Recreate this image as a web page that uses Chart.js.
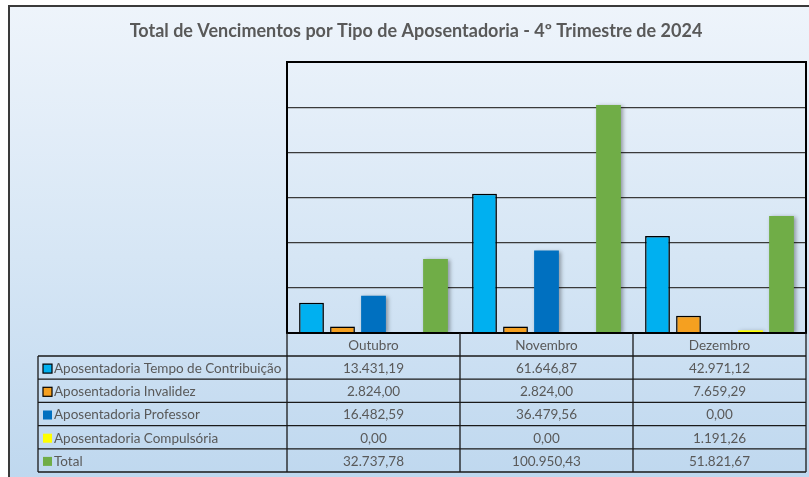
<!DOCTYPE html>
<html>
<head>
<meta charset="utf-8">
<script src="https://cdn.jsdelivr.net/npm/chart.js@4"></script>
<style>
  html, body { margin: 0; padding: 0; background: #fff; overflow: hidden; }
  #moldura {
    position: absolute; left: 8px; top: 5px; width: 840px; height: 500px;
    border: 2px solid #3a3a3a;
    background: linear-gradient(to bottom, #eef4fb 0%, #d6e6f5 50%, #bcd6ee 100%);
  }
  #grafico { position: absolute; left: 0; top: 0; }
</style>
</head>
<body>
<div id="moldura"></div>
<canvas id="grafico" width="809" height="477"></canvas>
<script>
const titulo = "Total de Vencimentos por Tipo de Aposentadoria - 4º Trimestre de 2024";
const meses = ["Outubro", "Novembro", "Dezembro"];
const tempoContribuicao = [13431.19, 61646.87, 42971.12];
const invalidez = [2824.00, 2824.00, 7659.29];
const professor = [16482.59, 36479.56, 0.00];
const compulsoria = [0.00, 0.00, 1191.26];
const total = [32737.78, 100950.43, 51821.67];

const cinza = "#595959";
const fonte = "Lato, 'Open Sans', sans-serif";

// formata no padrao brasileiro: 1.234,56
function formatar(v) {
  let partes = v.toFixed(2).split(".");
  partes[0] = partes[0].replace(/\B(?=(\d{3})+(?!\d))/g, ".");
  return partes[0] + "," + partes[1];
}

// sombra das barras
const sombra = {
  id: "sombra",
  beforeDatasetsDraw(chart) {
    const ctx = chart.ctx;
    ctx.save();
    ctx.shadowColor = "rgba(0,0,0,0.35)";
    ctx.shadowBlur = 4;
    ctx.shadowOffsetX = 2;
    ctx.shadowOffsetY = 1;
  },
  afterDatasetsDraw(chart) {
    chart.ctx.restore();
  }
};

// titulo, borda da area do grafico e tabela de dados
const tabela = {
  id: "tabela",
  afterDraw(chart) {
    const ctx = chart.ctx;
    const a = chart.chartArea;
    const x = chart.scales.x;
    const larg = (a.right - a.left) / meses.length;
    const esq = 38;
    const topoLinhas = 356;
    const altLinha = 23.2;
    const fundo = topoLinhas + altLinha * 5;

    ctx.save();
    // titulo centrado na moldura
    ctx.fillStyle = cinza;
    ctx.font = "bold 18px " + fonte;
    ctx.textAlign = "center";
    ctx.textBaseline = "middle";
    ctx.fillText(titulo, 416, 31);

    // moldura do grafico
    ctx.strokeStyle = "#000";
    ctx.lineWidth = 2;
    ctx.strokeRect(a.left, a.top, a.right - a.left, a.bottom - a.top);

    // linhas da tabela
    ctx.lineWidth = 1.3;
    ctx.strokeStyle = "#1a1a1a";
    ctx.beginPath();
    for (let i = 0; i <= meses.length; i++) {
      let px = a.left + larg * i;
      ctx.moveTo(px, a.bottom);
      ctx.lineTo(px, fundo);
    }
    ctx.moveTo(esq, topoLinhas);
    ctx.lineTo(esq, fundo);
    for (let r = 0; r <= 5; r++) {
      let py = topoLinhas + altLinha * r;
      ctx.moveTo(esq, py);
      ctx.lineTo(a.right, py);
    }
    ctx.stroke();

    // cabecalho dos meses
    ctx.fillStyle = cinza;
    ctx.font = "13.5px " + fonte;
    meses.forEach((m, i) => {
      ctx.fillText(m, x.getPixelForValue(i), (a.bottom + topoLinhas) / 2 + 1);
    });

    // linhas de series
    chart.data.datasets.forEach((ds, r) => {
      let cy = topoLinhas + altLinha * r + altLinha / 2 + 1;
      // chave da legenda
      ctx.fillStyle = ds.backgroundColor;
      ctx.fillRect(43, cy - 4.5, 9, 9);
      if (ds.borderWidth) {
        ctx.lineWidth = 1.2;
        ctx.strokeStyle = "#000";
        ctx.strokeRect(43, cy - 4.5, 9, 9);
      }
      ctx.fillStyle = cinza;
      ctx.textAlign = "left";
      ctx.fillText(ds.label, 54, cy);
      ctx.textAlign = "center";
      ds.data.forEach((v, i) => {
        ctx.fillText(formatar(v), x.getPixelForValue(i), cy);
      });
    });
    ctx.restore();
  }
};

let barras = new Chart(document.getElementById("grafico"), {
  type: "bar",
  data: {
    labels: meses,
    datasets: [
      {
        label: "Aposentadoria Tempo de Contribuição",
        data: tempoContribuicao,
        backgroundColor: "#00B0F0",
        borderColor: "#000",
        borderWidth: 1.5,
      },
      {
        label: "Aposentadoria Invalidez",
        data: invalidez,
        backgroundColor: "#F5A020",
        borderColor: "#000",
        borderWidth: 1.5,
      },
      {
        label: "Aposentadoria Professor",
        data: professor,
        backgroundColor: "#0070C0",
        borderWidth: 0,
      },
      {
        label: "Aposentadoria Compulsória",
        data: compulsoria,
        backgroundColor: "#FFFF00",
        borderWidth: 0,
      },
      {
        label: "Total",
        data: total,
        backgroundColor: "#70AD47",
        borderWidth: 0,
      },
    ]
  },
  options: {
    responsive: false,
    animation: false,
    layout: {
      padding: { left: 287, right: 3, top: 62, bottom: 144 }
    },
    datasets: {
      bar: { barPercentage: 0.8, categoryPercentage: 0.896 }
    },
    scales: {
      x: { display: false },
      y: {
        min: 0,
        max: 120000,
        ticks: { display: false, stepSize: 20000 },
        border: { display: false },
        grid: { color: "#3a3a3a", lineWidth: 1.3, drawTicks: false },
        afterFit(s) { s.width = 0; }
      }
    },
    plugins: {
      legend: { display: false },
      tooltip: { enabled: false },
      title: { display: false }
    }
  },
  plugins: [sombra, tabela]
});
</script>
</body>
</html>
